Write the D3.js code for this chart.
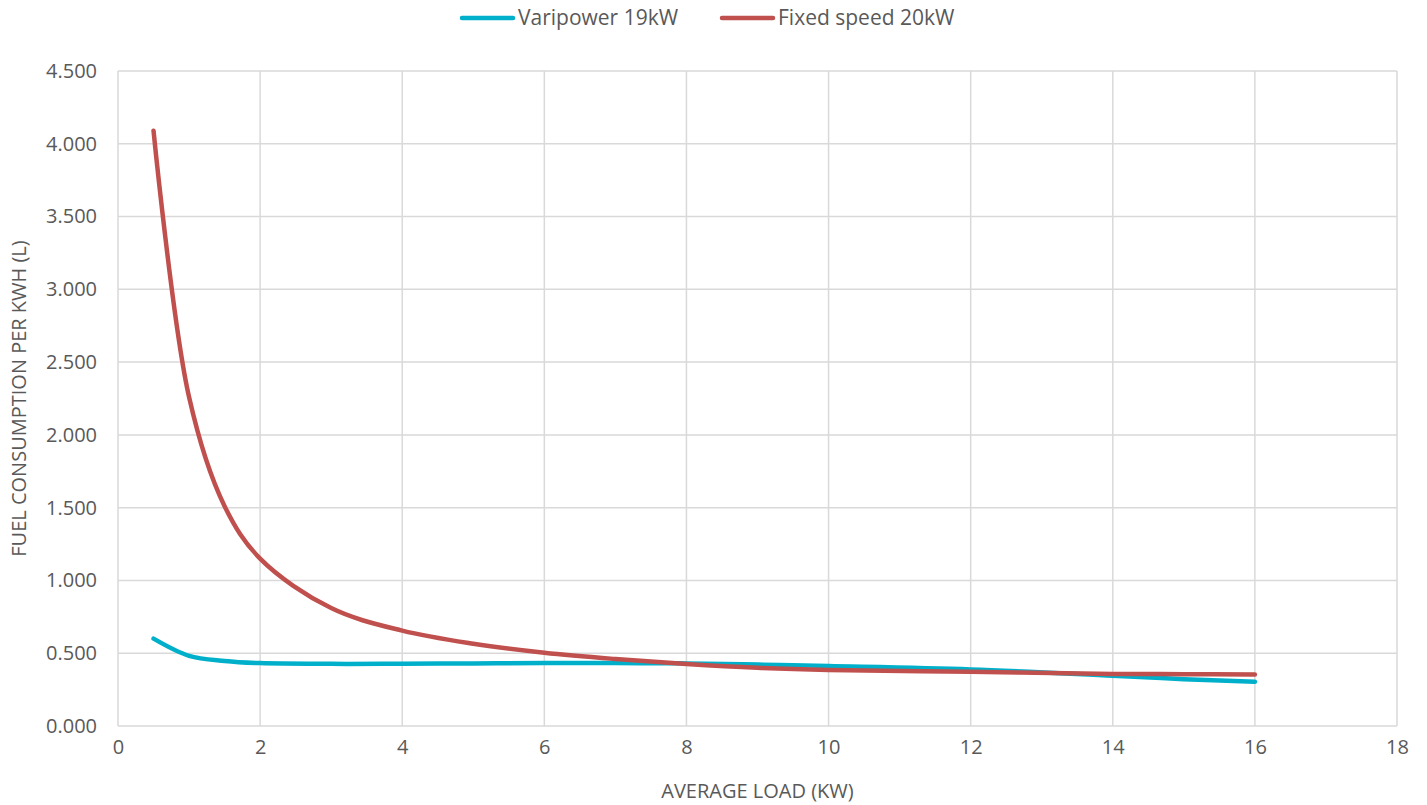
<!DOCTYPE html>
<html>
<head>
<meta charset="utf-8">
<script src="https://cdn.jsdelivr.net/npm/d3@7"></script>
<style>
  body { margin: 0; background: #fff; }
  text { font-family: "Open Sans", sans-serif; fill: #595959; }
</style>
</head>
<body>
<div id="chart"></div>
<script>
// average load (kW) and fuel use per kWh
var loadKw = [0.5, 1, 1.5, 2, 3, 4, 5, 6, 7, 8, 9, 10, 12, 14, 15, 16];
var varipower = [0.6, 0.482, 0.447, 0.432, 0.427, 0.428, 0.43, 0.432, 0.432, 0.43, 0.422, 0.412, 0.389, 0.345, 0.322, 0.304];
var fixedSpeed = [4.09, 2.26, 1.51, 1.15, 0.81, 0.655, 0.565, 0.503, 0.46, 0.426, 0.40, 0.385, 0.373, 0.358, 0.356, 0.354];
var seriesNames = ["Varipower 19kW", "Fixed speed 20kW"];
var seriesColors = ["#00B0CA", "#C0504D"];
var xTicks = [0, 2, 4, 6, 8, 10, 12, 14, 16, 18];
var yTicks = [0, 0.5, 1, 1.5, 2, 2.5, 3, 3.5, 4, 4.5];

function init() {
    var w = 1427, h = 805;
    var left = 118, right = 1397, top = 71, bottom = 726;

    var svg = d3.select("#chart").append("svg").attr("width", w).attr("height", h);

    var xScale = d3.scaleLinear().domain([0, 18]).range([left, right]);
    var yScale = d3.scaleLinear().domain([0, 4.5]).range([bottom, top]);

    // gridlines
    svg.append("g").selectAll("line").data(yTicks).enter().append("line")
        .attr("x1", left).attr("x2", right)
        .attr("y1", d => yScale(d)).attr("y2", d => yScale(d))
        .attr("stroke", "#d9d9d9").attr("stroke-width", 1.5);
    svg.append("g").selectAll("line").data(xTicks).enter().append("line")
        .attr("y1", top).attr("y2", bottom)
        .attr("x1", d => xScale(d)).attr("x2", d => xScale(d))
        .attr("stroke", "#d9d9d9").attr("stroke-width", 1.5);

    // axes (labels only)
    var xAxis = d3.axisBottom(xScale).tickValues(xTicks).tickSize(0).tickPadding(14);
    var yAxis = d3.axisLeft(yScale).tickValues(yTicks).tickSize(0).tickPadding(21).tickFormat(d3.format(".3f"));

    var gx = svg.append("g").attr("transform", "translate(0," + bottom + ")").call(xAxis);
    var gy = svg.append("g").attr("transform", "translate(" + left + ",0)").call(yAxis);
    [gx, gy].forEach(function (g) {
        g.select(".domain").remove();
        g.selectAll("text").attr("font-size", 20).attr("fill", "#595959")
            .style("font-family", '"Open Sans", sans-serif');
    });

    // axis titles
    svg.append("text")
        .attr("x", (left + right) / 2).attr("y", 798)
        .attr("text-anchor", "middle").attr("font-size", 20)
        .text("AVERAGE LOAD (KW)");
    svg.append("text")
        .attr("transform", "translate(26," + ((top + bottom) / 2) + ") rotate(-90)")
        .attr("text-anchor", "middle").attr("font-size", 20)
        .text("FUEL CONSUMPTION PER KWH (L)");

    // lines
    var series = [varipower, fixedSpeed];
    series.forEach(function (vals, i) {
        var pts = loadKw.map((x, j) => [x, vals[j]]);
        var line = d3.line()
            .x(d => xScale(d[0]))
            .y(d => yScale(d[1]))
            .curve(d3.curveCatmullRom.alpha(0.5));
        svg.append("path").attr("d", line(pts))
            .attr("fill", "none").attr("stroke", seriesColors[i])
            .attr("stroke-width", 4.5).attr("stroke-linecap", "round");
    });

    // legend
    var legendX = [462, 722];
    seriesNames.forEach(function (name, i) {
        var g = svg.append("g").attr("transform", "translate(" + legendX[i] + ",18)");
        g.append("line").attr("x1", 0).attr("x2", 51).attr("y1", 0).attr("y2", 0)
            .attr("stroke", seriesColors[i]).attr("stroke-width", 4.5).attr("stroke-linecap", "round");
        g.append("text").attr("x", 56).attr("y", 7).attr("font-size", 21).text(name);
    });
}
window.onload = init;
</script>
</body>
</html>
